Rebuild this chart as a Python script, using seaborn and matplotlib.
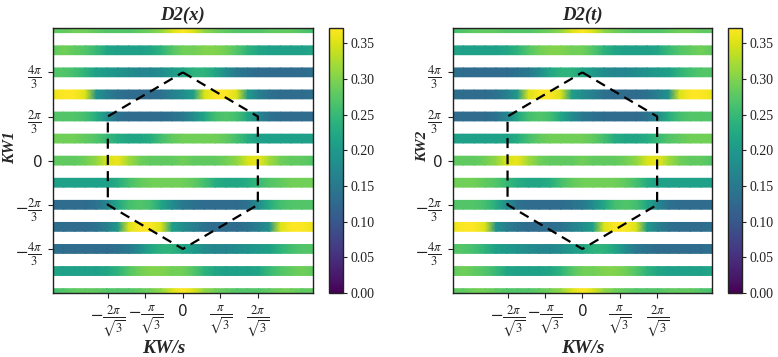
import numpy as np
import matplotlib.pyplot as plt
import seaborn as sns

PI = np.pi
S3 = np.sqrt(3)

# sample positions along KW/s (25 nodes from -2pi to 2pi) and stripe centres along KW
kx_nodes = np.linspace(-2 * PI, 2 * PI, 25)
ky_rows = [2 * PI, 5 * PI / 3, 4 * PI / 3, PI, 2 * PI / 3, PI / 3, 0.0,
           -PI / 3, -2 * PI / 3, -PI, -4 * PI / 3, -5 * PI / 3, -2 * PI]

# D2(x): one list per stripe, top to bottom
d2x_2pi = [0.28, 0.28, 0.29, 0.29, 0.28, 0.27, 0.27, 0.27, 0.28, 0.29, 0.31, 0.35, 0.37, 0.35, 0.31, 0.29, 0.28, 0.27, 0.27, 0.27, 0.28, 0.28, 0.28, 0.27, 0.26]
d2x_5pi3 = [0.28, 0.29, 0.28, 0.27, 0.25, 0.22, 0.21, 0.21, 0.21, 0.22, 0.24, 0.27, 0.29, 0.29, 0.30, 0.30, 0.29, 0.27, 0.24, 0.22, 0.21, 0.21, 0.21, 0.21, 0.22]
d2x_4pi3 = [0.27, 0.27, 0.26, 0.24, 0.21, 0.20, 0.19, 0.18, 0.17, 0.17, 0.18, 0.20, 0.22, 0.24, 0.24, 0.22, 0.18, 0.15, 0.14, 0.13, 0.13, 0.13, 0.13, 0.13, 0.14]
d2x_pi = [0.36, 0.37, 0.37, 0.35, 0.19, 0.16, 0.14, 0.13, 0.13, 0.13, 0.14, 0.16, 0.18, 0.21, 0.35, 0.37, 0.37, 0.35, 0.20, 0.16, 0.14, 0.13, 0.13, 0.13, 0.14]
d2x_2pi3 = [0.27, 0.27, 0.27, 0.26, 0.23, 0.18, 0.14, 0.13, 0.13, 0.13, 0.13, 0.14, 0.15, 0.18, 0.22, 0.26, 0.27, 0.26, 0.22, 0.17, 0.14, 0.13, 0.13, 0.13, 0.13]
d2x_pi3 = [0.29, 0.29, 0.29, 0.28, 0.27, 0.25, 0.23, 0.22, 0.22, 0.23, 0.26, 0.28, 0.29, 0.29, 0.29, 0.29, 0.28, 0.26, 0.23, 0.21, 0.21, 0.21, 0.21, 0.21, 0.21]
d2x_0 = [0.28, 0.28, 0.28, 0.29, 0.31, 0.35, 0.36, 0.32, 0.29, 0.28, 0.28, 0.28, 0.29, 0.28, 0.28, 0.28, 0.29, 0.31, 0.35, 0.36, 0.32, 0.29, 0.28, 0.28, 0.27]
d2x_m_pi3 = [0.21, 0.21, 0.21, 0.21, 0.21, 0.21, 0.23, 0.26, 0.28, 0.29, 0.29, 0.29, 0.29, 0.28, 0.26, 0.23, 0.22, 0.22, 0.23, 0.25, 0.27, 0.28, 0.29, 0.29, 0.29]
d2x_m_2pi3 = [0.13, 0.13, 0.13, 0.13, 0.14, 0.17, 0.22, 0.26, 0.27, 0.26, 0.22, 0.18, 0.15, 0.14, 0.13, 0.13, 0.13, 0.13, 0.14, 0.18, 0.23, 0.26, 0.27, 0.27, 0.27]
d2x_m_pi = [0.14, 0.13, 0.13, 0.13, 0.14, 0.16, 0.20, 0.35, 0.37, 0.37, 0.35, 0.21, 0.18, 0.16, 0.14, 0.13, 0.13, 0.13, 0.14, 0.16, 0.19, 0.35, 0.37, 0.37, 0.36]
d2x_m_4pi3 = [0.14, 0.13, 0.13, 0.13, 0.13, 0.13, 0.14, 0.15, 0.18, 0.22, 0.24, 0.24, 0.22, 0.20, 0.18, 0.17, 0.17, 0.18, 0.19, 0.20, 0.21, 0.24, 0.26, 0.27, 0.27]
d2x_m_5pi3 = [0.22, 0.21, 0.21, 0.21, 0.21, 0.22, 0.24, 0.27, 0.29, 0.30, 0.30, 0.29, 0.29, 0.27, 0.24, 0.22, 0.21, 0.21, 0.21, 0.22, 0.25, 0.27, 0.28, 0.29, 0.28]
d2x_m_2pi = [0.26, 0.27, 0.28, 0.28, 0.28, 0.27, 0.27, 0.27, 0.28, 0.29, 0.31, 0.35, 0.37, 0.35, 0.31, 0.29, 0.28, 0.27, 0.27, 0.27, 0.28, 0.29, 0.29, 0.28, 0.28]

# D2(t): one list per stripe, top to bottom
d2t_2pi = [0.26, 0.27, 0.28, 0.28, 0.28, 0.27, 0.27, 0.27, 0.28, 0.29, 0.31, 0.35, 0.37, 0.35, 0.31, 0.29, 0.28, 0.27, 0.27, 0.27, 0.28, 0.29, 0.29, 0.28, 0.28]
d2t_5pi3 = [0.22, 0.21, 0.21, 0.21, 0.21, 0.22, 0.24, 0.27, 0.29, 0.30, 0.30, 0.29, 0.29, 0.27, 0.24, 0.22, 0.21, 0.21, 0.21, 0.22, 0.25, 0.27, 0.28, 0.29, 0.28]
d2t_4pi3 = [0.14, 0.13, 0.13, 0.13, 0.13, 0.13, 0.14, 0.15, 0.18, 0.22, 0.24, 0.24, 0.22, 0.20, 0.18, 0.17, 0.17, 0.18, 0.19, 0.20, 0.21, 0.24, 0.26, 0.27, 0.27]
d2t_pi = [0.14, 0.13, 0.13, 0.13, 0.14, 0.16, 0.20, 0.35, 0.37, 0.37, 0.35, 0.21, 0.18, 0.16, 0.14, 0.13, 0.13, 0.13, 0.14, 0.16, 0.19, 0.35, 0.37, 0.37, 0.36]
d2t_2pi3 = [0.13, 0.13, 0.13, 0.13, 0.14, 0.17, 0.22, 0.26, 0.27, 0.26, 0.22, 0.18, 0.15, 0.14, 0.13, 0.13, 0.13, 0.13, 0.14, 0.18, 0.23, 0.26, 0.27, 0.27, 0.27]
d2t_pi3 = [0.21, 0.21, 0.21, 0.21, 0.21, 0.21, 0.23, 0.26, 0.28, 0.29, 0.29, 0.29, 0.29, 0.28, 0.26, 0.23, 0.22, 0.22, 0.23, 0.25, 0.27, 0.28, 0.29, 0.29, 0.29]
d2t_0 = [0.28, 0.28, 0.28, 0.29, 0.31, 0.35, 0.36, 0.32, 0.29, 0.28, 0.28, 0.28, 0.29, 0.28, 0.28, 0.28, 0.29, 0.31, 0.35, 0.36, 0.32, 0.29, 0.28, 0.28, 0.27]
d2t_m_pi3 = [0.29, 0.29, 0.29, 0.28, 0.27, 0.25, 0.23, 0.22, 0.22, 0.23, 0.26, 0.28, 0.29, 0.29, 0.29, 0.29, 0.28, 0.26, 0.23, 0.21, 0.21, 0.21, 0.21, 0.21, 0.21]
d2t_m_2pi3 = [0.27, 0.27, 0.27, 0.26, 0.23, 0.18, 0.14, 0.13, 0.13, 0.13, 0.13, 0.14, 0.15, 0.18, 0.22, 0.26, 0.27, 0.26, 0.22, 0.17, 0.14, 0.13, 0.13, 0.13, 0.13]
d2t_m_pi = [0.36, 0.37, 0.37, 0.35, 0.19, 0.16, 0.14, 0.13, 0.13, 0.13, 0.14, 0.16, 0.18, 0.21, 0.35, 0.37, 0.37, 0.35, 0.20, 0.16, 0.14, 0.13, 0.13, 0.13, 0.14]
d2t_m_4pi3 = [0.27, 0.27, 0.26, 0.24, 0.21, 0.20, 0.19, 0.18, 0.17, 0.17, 0.18, 0.20, 0.22, 0.24, 0.24, 0.22, 0.18, 0.15, 0.14, 0.13, 0.13, 0.13, 0.13, 0.13, 0.14]
d2t_m_5pi3 = [0.28, 0.29, 0.28, 0.27, 0.25, 0.22, 0.21, 0.21, 0.21, 0.22, 0.24, 0.27, 0.29, 0.29, 0.30, 0.30, 0.29, 0.27, 0.24, 0.22, 0.21, 0.21, 0.21, 0.21, 0.22]
d2t_m_2pi = [0.28, 0.28, 0.29, 0.29, 0.28, 0.27, 0.27, 0.27, 0.28, 0.29, 0.31, 0.35, 0.37, 0.35, 0.31, 0.29, 0.28, 0.27, 0.27, 0.27, 0.28, 0.28, 0.28, 0.27, 0.26]

d2x_rows = [d2x_2pi, d2x_5pi3, d2x_4pi3, d2x_pi, d2x_2pi3, d2x_pi3, d2x_0,
            d2x_m_pi3, d2x_m_2pi3, d2x_m_pi, d2x_m_4pi3, d2x_m_5pi3, d2x_m_2pi]
d2t_rows = [d2t_2pi, d2t_5pi3, d2t_4pi3, d2t_pi, d2t_2pi3, d2t_pi3, d2t_0,
            d2t_m_pi3, d2t_m_2pi3, d2t_m_pi, d2t_m_4pi3, d2t_m_5pi3, d2t_m_2pi]

# Brillouin-zone hexagon corners (closed)
hex_kx = [0, 2 * PI / S3, 2 * PI / S3, 0, -2 * PI / S3, -2 * PI / S3, 0]
hex_ky = [4 * PI / 3, 2 * PI / 3, -2 * PI / 3, -4 * PI / 3, -2 * PI / 3, 2 * PI / 3, 4 * PI / 3]

xtick_vals = [-2 * PI / S3, -PI / S3, 0, PI / S3, 2 * PI / S3]
xtick_labels = [r"$-\frac{2\pi}{\sqrt{3}}$", r"$-\frac{\pi}{\sqrt{3}}$", "0",
                r"$\frac{\pi}{\sqrt{3}}$", r"$\frac{2\pi}{\sqrt{3}}$"]
ytick_vals = [-4 * PI / 3, -2 * PI / 3, 0, 2 * PI / 3, 4 * PI / 3]
ytick_labels = [r"$-\frac{4\pi}{3}$", r"$-\frac{2\pi}{3}$", "0",
                r"$\frac{2\pi}{3}$", r"$\frac{4\pi}{3}$"]
cbar_ticks = [0.0, 0.05, 0.10, 0.15, 0.20, 0.25, 0.30, 0.35]

VMIN, VMAX = 0.0, 0.371
HALF = 0.2 * PI / 3

sns.set_theme(style="ticks")
plt.rcParams["font.family"] = ["Liberation Serif", "DejaVu Serif"]
plt.rcParams["mathtext.fontset"] = "stix"
plt.rcParams["axes.edgecolor"] = "#222222"
plt.rcParams["xtick.color"] = "#222222"
plt.rcParams["ytick.color"] = "#222222"
cmap = sns.color_palette("viridis", as_cmap=True)

fig = plt.figure(figsize=(7.78, 3.57), dpi=100)
# data, title, ylabel, ylabel size, axes rect, colorbar rect, ylabel pos, xlabel pos (axes coords)
panels = [
    (d2x_rows, "D2(x)", "KW1", 11.5, [0.068, 0.179, 0.334, 0.742], [0.423, 0.179, 0.018, 0.742],
     (-0.165, 0.55), (0.427, -0.21)),
    (d2t_rows, "D2(t)", "KW2", 11, [0.582, 0.179, 0.333, 0.742], [0.936, 0.179, 0.018, 0.742],
     (-0.118, 0.555), (0.5, -0.21)),
]

for rows, title, ylab, ylab_size, ax_rect, cb_rect, ylab_pos, xlab_pos in panels:
    ax = fig.add_axes(ax_rect)
    mesh = None
    for yc, vals in zip(ky_rows, rows):
        c = np.vstack([vals, vals])
        mesh = ax.pcolormesh(kx_nodes, [yc - HALF, yc + HALF], c, shading="gouraud",
                             cmap=cmap, vmin=VMIN, vmax=VMAX)
    sns.lineplot(x=hex_kx, y=hex_ky, sort=False, estimator=None, ax=ax,
                 color="black", linestyle=(0, (4.5, 2.8)), linewidth=1.6)
    ax.set_xlim(-2 * PI, 2 * PI)
    ax.set_ylim(-2 * PI, 2 * PI)
    ax.set_facecolor("white")
    ax.set_xticks(xtick_vals)
    ax.set_xticklabels(xtick_labels, fontsize=13)
    ax.set_yticks(ytick_vals)
    ax.set_yticklabels(ytick_labels, fontsize=13)
    for lbl in ax.get_xticklabels() + ax.get_yticklabels():
        if lbl.get_text() == "0":
            lbl.set_fontfamily("DejaVu Sans")
            lbl.set_fontsize(11)
    ax.tick_params(direction="out", length=3.5, width=0.8)
    ax.tick_params(axis="x", pad=4)
    ax.tick_params(axis="y", pad=4)
    ax.set_title(title, fontsize=13.5, fontweight="bold", fontstyle="italic", pad=6)
    ax.set_xlabel("KW/s", fontsize=14, fontweight="bold", fontstyle="italic")
    ax.set_ylabel(ylab, fontsize=ylab_size, fontweight="bold", fontstyle="italic")
    ax.xaxis.label.set_verticalalignment("center")
    ax.yaxis.label.set_verticalalignment("center")
    ax.yaxis.label.set_horizontalalignment("center")
    ax.xaxis.set_label_coords(*xlab_pos)
    ax.yaxis.set_label_coords(*ylab_pos)
    for sp in ax.spines.values():
        sp.set_linewidth(1.0)

    cax = fig.add_axes(cb_rect)
    cb = fig.colorbar(mesh, cax=cax)
    cb.set_ticks(cbar_ticks)
    cb.set_ticklabels([f"{t:.2f}" for t in cbar_ticks])
    cb.ax.tick_params(labelsize=10, length=3, width=0.8, pad=2)
    cb.outline.set_linewidth(1.0)

fig.savefig("out.png", dpi=100)
